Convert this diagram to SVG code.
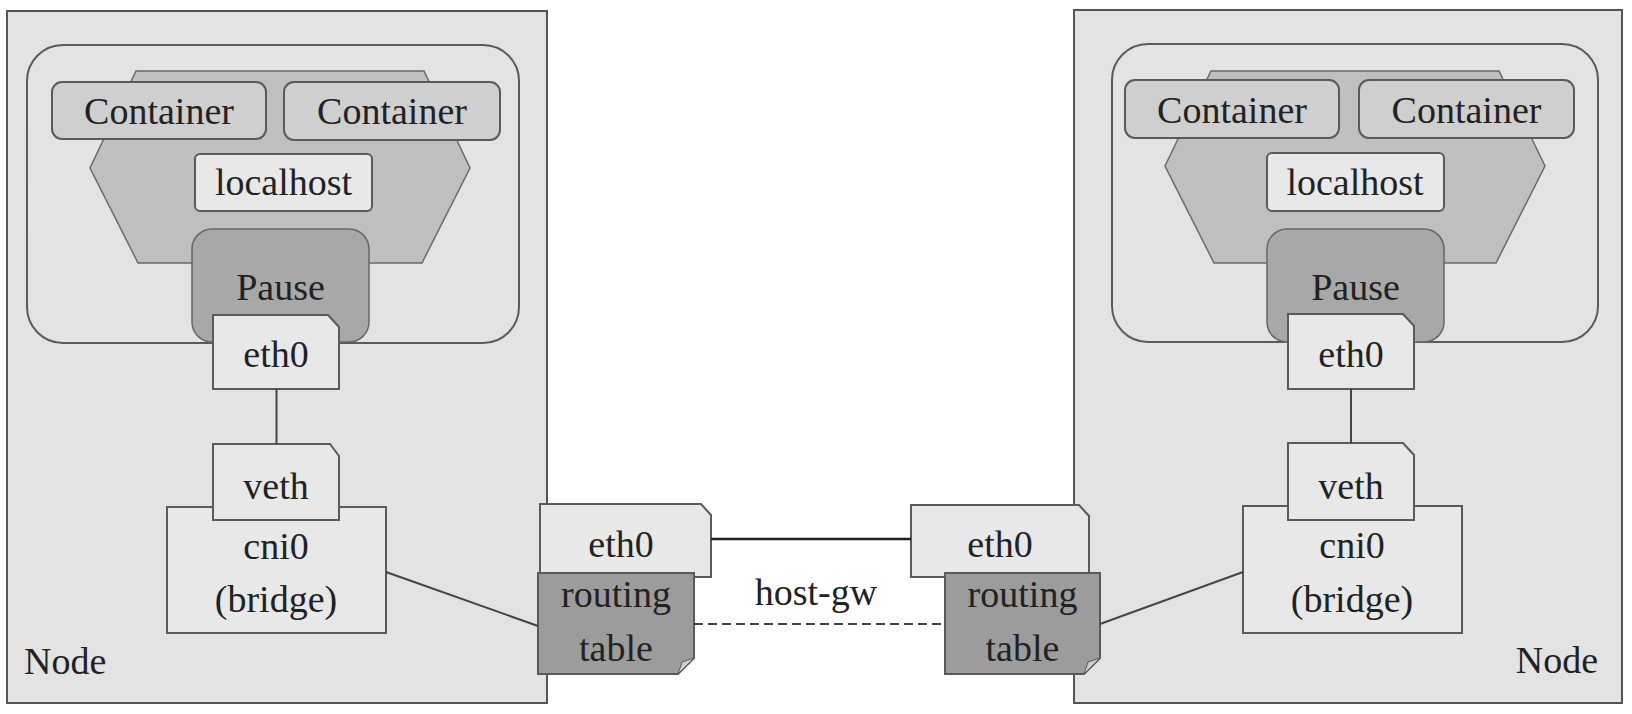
<svg xmlns="http://www.w3.org/2000/svg" width="1632" height="714" viewBox="0 0 1632 714">
<style>
.t{font-family:"Liberation Serif","Times New Roman",serif;font-size:38px;fill:#222;text-anchor:middle}
.node{fill:#e3e3e3;stroke:#555;stroke-width:2}
.pod{fill:#e3e3e3;stroke:#5a5a5a;stroke-width:2}
.hex{fill:#bfbfbf;stroke:#6a6a6a;stroke-width:1.5}
.cont{fill:#cfcfcf;stroke:#5a5a5a;stroke-width:2}
.light{fill:#e8e8e8;stroke:#5a5a5a;stroke-width:2}
.pause{fill:#a8a8a8;stroke:#666;stroke-width:1.5}
.rt{fill:#9c9c9c;stroke:#5a5a5a;stroke-width:2}
.fold{fill:#cdcdcd;stroke:#5a5a5a;stroke-width:1}
.ln{stroke:#444;stroke-width:2;fill:none}
</style>
<rect width="1632" height="714" fill="#ffffff"/>

<g id="node-left">
<rect class="node" x="7" y="11" width="540" height="692"/>
<text class="t" x="24" y="674" style="text-anchor:start">Node</text>
</g>
<g id="pod-left">
<rect class="pod" x="27" y="45" width="492" height="298" rx="36"/>
<path class="hex" d="M136,71 H424 L470,168 L422,263 H138 L90,168 Z"/>
</g>
<g id="container-left-1"><rect class="cont" x="52" y="82" width="214" height="57" rx="10"/><text class="t" x="159" y="124">Container</text></g>
<g id="container-left-2"><rect class="cont" x="284" y="82" width="216" height="58" rx="10"/><text class="t" x="392" y="124">Container</text></g>
<g id="localhost-left"><rect class="light" x="195" y="154" width="177" height="57" rx="5"/><text class="t" x="283.5" y="195">localhost</text></g>
<g id="pause-left"><rect class="pause" x="192" y="229" width="177" height="113" rx="20"/><text class="t" x="280.5" y="300">Pause</text></g>
<g id="eth0-pod-left"><path class="light" d="M213,315 H328 L339,327 V389 H213 Z"/><text class="t" x="276" y="367">eth0</text></g>
<g id="cni0-left"><rect class="light" x="167" y="507" width="219" height="126"/><text class="t" x="276" y="559">cni0</text><text class="t" x="276" y="612">(bridge)</text></g>
<g id="veth-left"><path class="light" d="M213,444 H330 L339,456 V520 H213 Z"/><text class="t" x="276" y="499">veth</text></g>

<g id="node-right">
<rect class="node" x="1074" y="10" width="548" height="693"/>
<text class="t" x="1598" y="673" style="text-anchor:end">Node</text>
</g>
<g id="pod-right">
<rect class="pod" x="1112" y="44" width="486" height="298" rx="36"/>
<path class="hex" d="M1211,71 H1499 L1545,166 L1496,263 H1214 L1165,166 Z"/>
</g>
<g id="container-right-1"><rect class="cont" x="1125" y="80" width="214" height="58" rx="10"/><text class="t" x="1232" y="123">Container</text></g>
<g id="container-right-2"><rect class="cont" x="1359" y="80" width="215" height="58" rx="10"/><text class="t" x="1466.5" y="123">Container</text></g>
<g id="localhost-right"><rect class="light" x="1267" y="153" width="177" height="58" rx="5"/><text class="t" x="1355" y="195">localhost</text></g>
<g id="pause-right"><rect class="pause" x="1267" y="229" width="177" height="113" rx="20"/><text class="t" x="1355.5" y="300">Pause</text></g>
<g id="eth0-pod-right"><path class="light" d="M1288,314 H1403 L1414,326 V389 H1288 Z"/><text class="t" x="1351" y="367">eth0</text></g>
<g id="cni0-right"><rect class="light" x="1243" y="506" width="219" height="127"/><text class="t" x="1352" y="558">cni0</text><text class="t" x="1352" y="612">(bridge)</text></g>
<g id="veth-right"><path class="light" d="M1288,443 H1403 L1414,455 V520 H1288 Z"/><text class="t" x="1351" y="499">veth</text></g>

<g id="eth0-host-left"><path class="light" d="M540,504 H701 L711,515 V577 H540 Z"/><text class="t" x="621" y="557">eth0</text></g>
<g id="routing-left"><path class="rt" d="M538,573 H694 V658 L678,674 H538 Z"/><path class="fold" d="M678,674 L682,662 L694,658 Z"/><text class="t" x="616" y="607">routing</text><text class="t" x="616" y="661">table</text></g>
<g id="eth0-host-right"><path class="light" d="M911,505 H1079 L1089,516 V577 H911 Z"/><text class="t" x="1000" y="557">eth0</text></g>
<g id="routing-right"><path class="rt" d="M945,573 H1100 V658 L1084,674 H945 Z"/><path class="fold" d="M1084,674 L1088,662 L1100,658 Z"/><text class="t" x="1022.5" y="607">routing</text><text class="t" x="1022.5" y="661">table</text></g>

<g id="connectors">
<line class="ln" x1="276.5" y1="389" x2="276.5" y2="444"/>
<line class="ln" x1="1351" y1="389" x2="1351" y2="443"/>
<line class="ln" x1="386" y1="572" x2="538" y2="626"/>
<line class="ln" x1="1243" y1="572" x2="1100" y2="624"/>
<line x1="711" y1="539" x2="911" y2="539" stroke="#222" stroke-width="2.5"/>
<line class="ln" x1="694" y1="624" x2="945" y2="624" stroke-dasharray="9 5"/>
<text class="t" x="816" y="605">host-gw</text>
</g>
</svg>
